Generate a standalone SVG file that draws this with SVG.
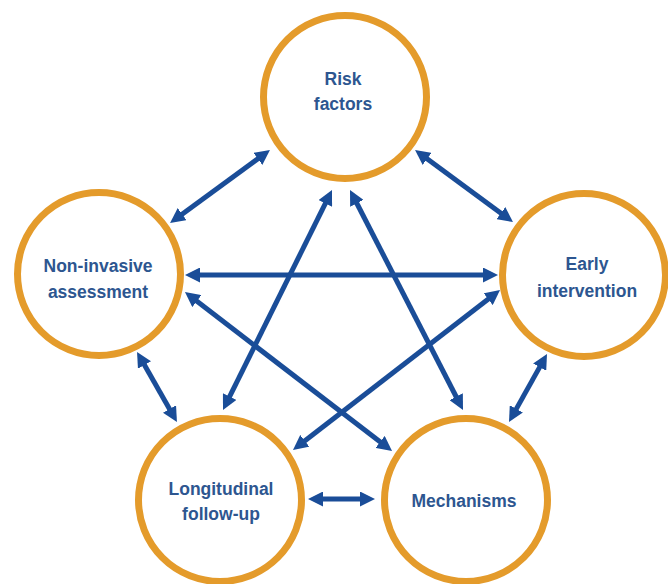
<svg xmlns="http://www.w3.org/2000/svg" width="668" height="584" viewBox="0 0 668 584">
<defs>
<style>
.node circle{fill:#ffffff;stroke:#E49B2B;stroke-width:7}
.node text{font-family:"Liberation Sans",Arial,sans-serif;font-weight:bold;font-size:17.5px;fill:#2D5690;text-anchor:middle}
.conn line{stroke:#1A4D98;stroke-width:5;marker-start:url(#ah);marker-end:url(#ah)}
</style>
<marker id="ah" viewBox="0 0 15 15" markerUnits="userSpaceOnUse" markerWidth="15" markerHeight="15" refX="6" refY="7.5" orient="auto-start-reverse">
<path d="M0,0 L15,7.5 L0,15 z" fill="#1A4D98"/>
</marker>
</defs>
<rect width="668" height="584" fill="#ffffff"/>
<g id="connectors" class="conn">
<line x1="177.3" y1="217.7" x2="262.7" y2="155.3"/>
<line x1="422.3" y1="155.3" x2="505.7" y2="216.7"/>
<line x1="194" y1="275" x2="489" y2="275"/>
<line x1="141.5" y1="359.8" x2="172.5" y2="414.2"/>
<line x1="542.6" y1="361.9" x2="513.4" y2="414.1"/>
<line x1="317" y1="499" x2="366" y2="499"/>
<line x1="227" y1="401.9" x2="328" y2="198.1"/>
<line x1="458.9" y1="402" x2="354.1" y2="198"/>
<line x1="192.1" y1="297.5" x2="384.9" y2="445.5"/>
<line x1="492.9" y1="295.5" x2="300.1" y2="444.5"/>
</g>
<g id="risk-factors" class="node">
<circle cx="345" cy="97" r="81.5"/>
<text x="343" y="85">Risk</text>
<text x="343" y="110">factors</text>
</g>
<g id="non-invasive-assessment" class="node">
<circle cx="99" cy="274" r="81.5"/>
<text x="98" y="272">Non-invasive</text>
<text x="98" y="298">assessment</text>
</g>
<g id="early-intervention" class="node">
<circle cx="584" cy="275" r="81.5"/>
<text x="587" y="270">Early</text>
<text x="587" y="297">intervention</text>
</g>
<g id="longitudinal-follow-up" class="node">
<circle cx="220" cy="500" r="81.5"/>
<text x="221" y="495">Longitudinal</text>
<text x="221" y="520">follow-up</text>
</g>
<g id="mechanisms" class="node">
<circle cx="466" cy="500" r="81.5"/>
<text x="464" y="507">Mechanisms</text>
</g>
</svg>
